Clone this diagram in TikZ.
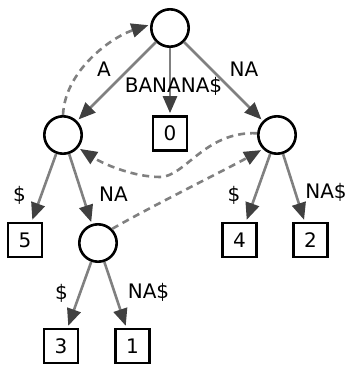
\documentclass[tikz,border=0pt]{standalone}
\usepackage{fontspec}
\setmainfont{DejaVu Sans}
\usetikzlibrary{arrows.meta}
\definecolor{edgegray}{HTML}{808080}
\definecolor{tipgray}{HTML}{404040}
\begin{document}
\begin{tikzpicture}[x=1pt,y=1pt,
  inode/.style={circle, draw=black, line width=2.6pt, minimum size=37.4pt, inner sep=0pt},
  leafbox/.style={rectangle, draw=black, line width=2.6pt, minimum size=34pt, inner sep=0pt, font=\fontsize{20}{24}\selectfont},
  lab/.style={inner sep=0pt, text height=14.6pt, text depth=0pt, font=\fontsize{20}{24}\selectfont},
  treeedge/.style={draw=edgegray, line width=2.6pt, -{Triangle[length=17pt,width=14pt,color=tipgray]}, shorten >=2pt},
  suffixlink/.style={treeedge, dash pattern=on 7pt off 5pt}
]
\useasboundingbox (0,0) rectangle (350,365);
% internal nodes
\node[inode] (root) at (170,337) {};
\node[inode] (L) at (63,230) {};
\node[inode] (R) at (277,230) {};
\node[inode] (N) at (98,122) {};
% leaves
\node[leafbox] (b0) at (170,231.5) {0};
\node[leafbox] (b5) at (25,125) {5};
\node[leafbox] (b4) at (239.5,125) {4};
\node[leafbox] (b2) at (310.5,125) {2};
\node[leafbox] (b3) at (61,19) {3};
\node[leafbox] (b1) at (132.5,19) {1};
% tree edges
\draw[treeedge] (root) -- (L);
\draw[treeedge] (root) -- (b0);
\draw[treeedge] (root) -- (R);
\draw[treeedge] (L) -- (b5);
\draw[treeedge] (L) -- (N);
\draw[treeedge] (R) -- (b4);
\draw[treeedge] (R) -- (b2);
\draw[treeedge] (N) -- (b3);
\draw[treeedge] (N) -- (b1);
% edge labels
\node[lab] (lA) at (104,295.5) {A};
\node[lab] (lBan) at (173.5,279.5) {BANANA\$};
\node[lab] (lNA1) at (244,295.5) {NA};
\node[lab] (lD1) at (19.5,171) {\$};
\node[lab] (lNA2) at (113.5,170.5) {NA};
\node[lab] (lD2) at (234,170.5) {\$};
\node[lab] (lNA3) at (326,174) {NA\$};
\node[lab] (lD3) at (61.5,73) {\$};
\node[lab] (lNA4) at (148.5,74) {NA\$};
% suffix links
\coordinate (dip) at (160,188);
\draw[suffixlink] (L.north) .. controls (65,295) and (112,328) .. (root.170);
\draw[suffixlink] (R.175) .. controls (205,234) and (185,188) .. (dip) .. controls (135,188) and (105,200) .. (L.-40);
\draw[suffixlink] (N.45) .. controls (150,158) and (225,195) .. (R.225);
\end{tikzpicture}
\end{document}
